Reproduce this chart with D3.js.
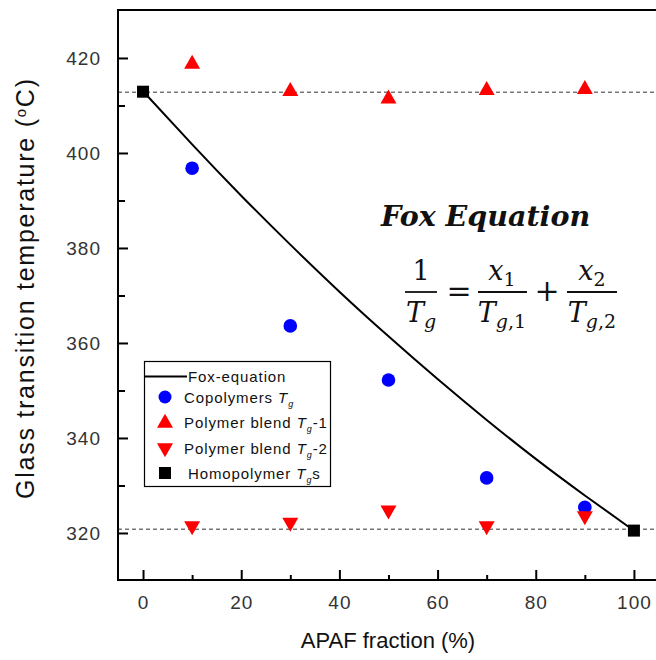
<!DOCTYPE html>
<html><head><meta charset="utf-8">
<script src="https://cdn.jsdelivr.net/npm/d3@7"></script>
<style>body{margin:0;background:#fff} svg{display:block}</style>
</head><body><svg id="c" width="656" height="660"></svg>
<script>
// ---- data ----
const foxX = [0, 10, 20, 30, 40, 50, 60, 70, 80, 90, 100];
const foxY = [413, 401.8, 391.0, 380.7, 370.8, 361.4, 352.4, 343.8, 335.6, 327.9, 320.5];
const copoX = [10, 30, 50, 70, 90];
const copoY = [396.8, 363.6, 352.2, 331.6, 325.4];
const blend1X = [10, 30, 50, 70, 90];
const blend1Y = [418.7, 413.0, 411.4, 413.2, 413.4];
const blend2X = [10, 30, 50, 70, 90];
const blend2Y = [321.5, 322.2, 324.8, 321.5, 323.6];
const homoX = [0, 100];
const homoY = [412.9, 320.5];
const refLines = [412.8, 320.8];
const xTicks = [0, 20, 40, 60, 80, 100];
const yTicks = [320, 340, 360, 380, 400, 420];
const xMinor = [10, 30, 50, 70, 90];
const yMinor = [330, 350, 370, 390, 410];

const svg = d3.select("#c");
const L = 118, T = 10, R = 657, B = 580;
const x = d3.scaleLinear().domain([-5.1, 104.7]).range([L, R]);
const y = d3.scaleLinear().domain([310.1, 430.1]).range([B, T]);
const FONT = "'Liberation Sans', Arial, sans-serif";

// reference dashed lines
svg.selectAll("line.ref").data(refLines).join("line")
  .attr("x1", L).attr("x2", R).attr("y1", d => y(d)).attr("y2", d => y(d))
  .attr("stroke", "#333").attr("stroke-width", 1).attr("stroke-dasharray", "4,3");

// axes
function styleAxis(g, fs) {
  g.select(".domain").remove();
  g.selectAll(".tick line").attr("stroke", "#000").attr("stroke-width", 2);
  g.selectAll(".tick text").attr("fill", "#333").style("font-family", FONT)
    .style("font-size", fs + "px").style("letter-spacing", "1px");
}
svg.append("g").attr("transform", `translate(0,${B})`)
  .call(d3.axisBottom(x).tickValues(xTicks).tickSizeInner(-10).tickSizeOuter(0).tickPadding(16))
  .call(g => styleAxis(g, 19));
svg.append("g").attr("transform", `translate(0,${B})`)
  .call(d3.axisBottom(x).tickValues(xMinor).tickSizeInner(-5).tickSizeOuter(0).tickFormat(""))
  .call(g => styleAxis(g, 19));
svg.append("g").attr("transform", `translate(${L},0)`)
  .call(d3.axisLeft(y).tickValues(yTicks).tickSizeInner(-10).tickSizeOuter(0).tickPadding(17))
  .call(g => styleAxis(g, 19));
svg.append("g").attr("transform", `translate(${L},0)`)
  .call(d3.axisLeft(y).tickValues(yMinor).tickSizeInner(-7).tickSizeOuter(0).tickFormat(""))
  .call(g => styleAxis(g, 19));

// frame
svg.append("rect").attr("x", L).attr("y", T).attr("width", R - L).attr("height", B - T)
  .attr("fill", "none").attr("stroke", "#000").attr("stroke-width", 2);

// fox curve
svg.append("path").datum(foxX.map((d, i) => [d, foxY[i]]))
  .attr("d", d3.line().x(d => x(d[0])).y(d => y(d[1])).curve(d3.curveNatural))
  .attr("fill", "none").attr("stroke", "#000").attr("stroke-width", 2);

// markers
const triUp = (w, h) => `M0,${-2*h/3}L${w/2},${h/3}L${-w/2},${h/3}Z`;
const triDown = (w, h) => `M0,${2*h/3}L${w/2},${-h/3}L${-w/2},${-h/3}Z`;
svg.selectAll("circle.copo").data(copoX.map((d, i) => [d, copoY[i]])).join("circle")
  .attr("cx", d => x(d[0])).attr("cy", d => y(d[1])).attr("r", 6.8).attr("fill", "#0000ff");
svg.selectAll("path.b1").data(blend1X.map((d, i) => [d, blend1Y[i]])).join("path")
  .attr("transform", d => `translate(${x(d[0])},${y(d[1])})`).attr("d", triUp(16, 14)).attr("fill", "#ff0000");
svg.selectAll("path.b2").data(blend2X.map((d, i) => [d, blend2Y[i]])).join("path")
  .attr("transform", d => `translate(${x(d[0])},${y(d[1])})`).attr("d", triDown(16, 14)).attr("fill", "#ff0000");
svg.selectAll("rect.homo").data(homoX.map((d, i) => [d, homoY[i]])).join("rect")
  .attr("x", d => x(d[0]) - 6).attr("y", d => y(d[1]) - 6).attr("width", 12).attr("height", 12).attr("fill", "#000");

// axis titles
svg.append("text").attr("transform", "translate(34,289) rotate(-90)").attr("text-anchor", "middle")
  .attr("textLength", 420).attr("lengthAdjust", "spacing")
  .style("font-family", FONT).style("font-size", "25px").attr("fill", "#111")
  .html('Glass transition temperature (<tspan dy="-8" font-size="15px">o</tspan><tspan dy="8">C)</tspan>');
svg.append("text").attr("x", 388).attr("y", 648).attr("text-anchor", "middle")
  .style("font-family", FONT).style("font-size", "22px").attr("fill", "#111").text("APAF fraction (%)");

// legend
const lg = svg.append("g");
lg.append("rect").attr("x", 144.5).attr("y", 361.5).attr("width", 186).attr("height", 125)
  .attr("fill", "#fff").attr("stroke", "#000").attr("stroke-width", 1.2);
lg.append("line").attr("x1", 145).attr("x2", 187).attr("y1", 376.5).attr("y2", 376.5).attr("stroke", "#000").attr("stroke-width", 2);
lg.append("circle").attr("cx", 165).attr("cy", 397).attr("r", 6.5).attr("fill", "#0000ff");
lg.append("path").attr("transform", "translate(165,423)").attr("d", triUp(16, 14)).attr("fill", "#ff0000");
lg.append("path").attr("transform", "translate(165,448)").attr("d", triDown(16, 14)).attr("fill", "#ff0000");
lg.append("rect").attr("x", 159).attr("y", 467).attr("width", 12).attr("height", 12).attr("fill", "#000");
const lt = (xx, yy, html) => lg.append("text").attr("x", xx).attr("y", yy)
  .style("font-family", FONT).style("font-size", "15px").style("letter-spacing", "0.9px").attr("fill", "#111").html(html);
const sub = '<tspan font-style="italic">T</tspan><tspan font-style="italic" font-size="9px" dy="4">g</tspan><tspan dy="-4">';
lt(188, 382, "Fox-equation");
lt(184, 403, "Copolymers " + sub + "</tspan>");
lt(184, 428, "Polymer blend " + sub + "-1</tspan>");
lt(184, 454, "Polymer blend " + sub + "-2</tspan>");
lt(188, 479, "Homopolymer " + sub + "s</tspan>");

// Fox equation annotation
const SERIF = "'DejaVu Serif', 'Liberation Serif', serif";
svg.append("text").attr("x", 381).attr("y", 226).style("font-family", SERIF)
  .style("font-size", "28.5px").style("font-weight", "bold").style("font-style", "italic").attr("fill", "#111").text("Fox Equation");
const eq = svg.append("g").style("font-family", SERIF).attr("fill", "#111");
function frac(cx, x0, x1, num, den) {
  eq.append("line").attr("x1", x0).attr("x2", x1).attr("y1", 292).attr("y2", 292).attr("stroke", "#111").attr("stroke-width", 1.8);
  eq.append("text").attr("x", cx).attr("y", 280).attr("text-anchor", "middle").style("font-size", "27px").html(num);
  eq.append("text").attr("x", cx).attr("y", 322).attr("text-anchor", "middle").style("font-size", "27px").html(den);
}
frac(421, 405, 437, "1", '<tspan font-style="italic">T</tspan><tspan font-style="italic" font-size="19px" dy="6">g</tspan>');
frac(502, 478, 527, '<tspan font-style="italic">x</tspan><tspan font-size="19px" dy="6">1</tspan>',
  '<tspan font-style="italic">T</tspan><tspan font-style="italic" font-size="19px" dy="6">g</tspan><tspan font-size="19px">,1</tspan>');
frac(592, 567, 617, '<tspan font-style="italic">x</tspan><tspan font-size="19px" dy="6">2</tspan>',
  '<tspan font-style="italic">T</tspan><tspan font-style="italic" font-size="19px" dy="6">g</tspan><tspan font-size="19px">,2</tspan>');
eq.append("text").attr("x", 459).attr("y", 301).attr("text-anchor", "middle").style("font-size", "30px").text("=");
eq.append("text").attr("x", 547).attr("y", 301).attr("text-anchor", "middle").style("font-size", "30px").text("+");
</script></body></html>
